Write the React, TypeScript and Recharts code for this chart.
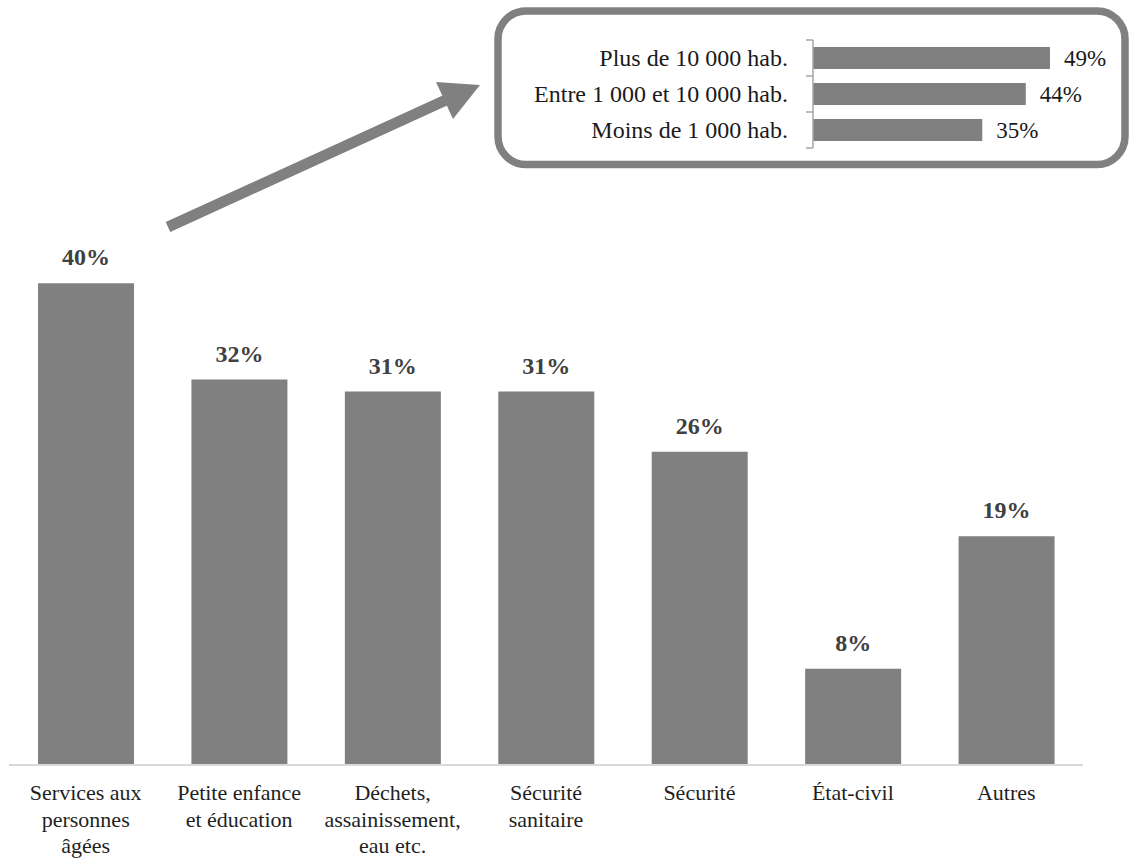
import { Bar, BarChart, LabelList, XAxis, YAxis } from 'recharts'

// Main chart: share of communes per service domain
const DOMAINS = [
  'Services aux\npersonnes\nâgées',
  'Petite enfance\net éducation',
  'Déchets,\nassainissement,\neau etc.',
  'Sécurité\nsanitaire',
  'Sécurité',
  'État-civil',
  'Autres',
]
const DOMAIN_SHARES = [40, 32, 31, 31, 26, 8, 19]

// Inset: breakdown of the first domain by commune size
const SIZE_GROUPS = ['Plus de 10 000 hab.', 'Entre 1 000 et 10 000 hab.', 'Moins de 1 000 hab.']
const SIZE_SHARES = [49, 44, 35]

const mainData = DOMAINS.map((name, i) => ({ name, value: DOMAIN_SHARES[i] }))
const insetData = SIZE_GROUPS.map((name, i) => ({ name, value: SIZE_SHARES[i] }))

const FONT = '"Liberation Serif", "DejaVu Serif", serif'
const BAR_GREY = '#808080'
const pct = (v: number | string) => `${v}%`

function DomainTick({ x, y, payload }: any) {
  const lines = String(payload.value).split('\n')
  return (
    <text x={x} y={y} textAnchor="middle" fontFamily={FONT} fontSize={22} fill="#1f1f1f">
      {lines.map((line, i) => (
        <tspan key={i} x={x} dy={i === 0 ? 27 : 26.5}>
          {line}
        </tspan>
      ))}
    </text>
  )
}

function SizeTick({ x, y, payload, index }: any) {
  const half = payload.offset ?? 18
  const axisX = x + 8
  return (
    <g>
      <text x={x - 17} y={y} dy="0.35em" textAnchor="end" fontFamily={FONT} fontSize={24} fill="#1a1a1a">
        {payload.value}
      </text>
      <line x1={axisX - 7} x2={axisX} y1={y - half} y2={y - half} stroke="#a6a6a6" strokeWidth={1.5} />
      {index === SIZE_GROUPS.length - 1 && (
        <line x1={axisX - 7} x2={axisX} y1={y + half} y2={y + half} stroke="#a6a6a6" strokeWidth={1.5} />
      )}
    </g>
  )
}

export default function App() {
  return (
    <div style={{ position: 'absolute', left: 0, top: 0, width: 1129, height: 858, background: '#fff' }}>
      <div style={{ position: 'absolute', left: 0, top: 0 }}>
        <BarChart width={1129} height={858} data={mainData} margin={{ top: 223, right: 46, left: 9, bottom: 13 }}>
          <XAxis
            dataKey="name"
            interval={0}
            height={80}
            tickLine={false}
            axisLine={{ stroke: '#d9d9d9', strokeWidth: 2 }}
            tick={<DomainTick />}
          />
          <YAxis hide domain={[0, 45]} />
          <Bar dataKey="value" fill={BAR_GREY} barSize={96} isAnimationActive={false}>
            <LabelList
              dataKey="value"
              position="top"
              offset={18}
              formatter={pct}
              style={{ fontFamily: FONT, fontSize: 24, fontWeight: 700, fill: '#404040' }}
            />
          </Bar>
        </BarChart>
      </div>

      {/* callout frame and arrow */}
      <svg width={1129} height={858} style={{ position: 'absolute', left: 0, top: 0, pointerEvents: 'none' }}>
        <rect x={498} y={11} width={627} height={153.5} rx={28} fill="none" stroke={BAR_GREY} strokeWidth={7.5} />
        <line x1={168} y1={227} x2={446} y2={100} stroke={BAR_GREY} strokeWidth={11} />
        <polygon points="480,85 436,82 453,119" fill={BAR_GREY} />
      </svg>

      <div style={{ position: 'absolute', left: 520, top: 0 }}>
        <BarChart
          width={600}
          height={180}
          layout="vertical"
          data={insetData}
          margin={{ top: 40, right: 41, left: 0, bottom: 32 }}
        >
          <XAxis type="number" hide domain={[0, 55]} />
          <YAxis
            type="category"
            dataKey="name"
            width={293}
            interval={0}
            tickLine={false}
            axisLine={{ stroke: '#a6a6a6', strokeWidth: 1.5 }}
            tick={<SizeTick />}
          />
          <Bar dataKey="value" fill={BAR_GREY} barSize={22} isAnimationActive={false}>
            <LabelList
              dataKey="value"
              position="right"
              offset={14}
              formatter={pct}
              style={{ fontFamily: FONT, fontSize: 23, fill: '#1a1a1a' }}
            />
          </Bar>
        </BarChart>
      </div>
    </div>
  )
}
